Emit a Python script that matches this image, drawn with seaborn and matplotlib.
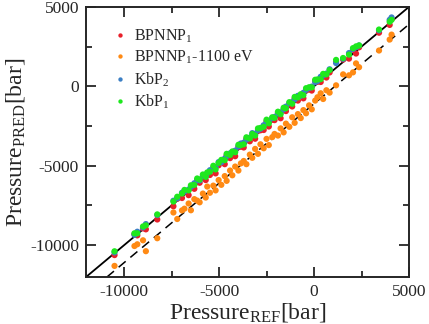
import numpy as np
import pandas as pd
import matplotlib
matplotlib.use("Agg")
import matplotlib.pyplot as plt
import seaborn as sns
from matplotlib.ticker import MultipleLocator

# ==============================
# Data
# ==============================

p_ref = [-10500, -9450, -9300, -9000, -8850, -8250,
         -7400, -7200, -6950, -6820, -6600, -6480, -6300, -6150, -6020, -5850, -5700, -5620,
         -5480, -5300, -5180, -5020, -4880, -4700, -4600, -4420, -4300, -4150,
         -3980, -3850, -3700, -3560, -3380, -3250, -3100, -2950, -2820, -2650,
         -2500, -2380, -2200, -2080, -1900, -1760, -1600, -1480, -1300, -1150,
         -1020, -850, -700, -560, -420, -260, -120, 60, 180, 350,
         480, 650, 820, 1160, 1530, 1840, 2050, 2210, 2370, 3420,
         3980, 4080]

bpnnp1 = [-10620, -9300, -9380, -8940, -9000, -8380,
          -7550, -7080, -7030, -6620, -6850, -6380, -6450, -5900, -6070, -5700, -5900, -5540,
          -5580, -5100, -5480, -4970, -4730, -4900, -4350, -4520, -4220, -4400,
          -3830, -3800, -3850, -3310, -3460, -3150, -3300, -2800, -2770, -2750,
          -2200, -2530, -2100, -2130, -1700, -2010, -1480, -1560, -1120, -1270,
          -770, -900, -600, -760, -270, -200, -270, 340, 280, 270,
          680, 550, 870, 1560, 1680, 1740, 2300, 2060, 2450, 3370,
          3860, 4230]

bpnnp1_1100 = [-11300, -10050, -9940, -9690, -10375, -9560,
               -7940, -8350, -7810, -7700, -7375, -7800, -7100, -7190, -7300, -6750, -7000, -6310,
               -6700, -6250, -6550, -5900, -6200, -5650, -5950, -5300, -5600, -5050,
               -5300, -4850, -4700, -4900, -4300, -4500, -3940, -4250, -3650, -3900,
               -3310, -3700, -3200, -3000, -3100, -2650, -2900, -2350, -2550, -1950,
               -2300, -1750, -2000, -1500, -1700, -1200, -1450, -900, -690, -440,
               -800, -250, -400, 60, 750, 690, 875, 1440, 1200, 2250,
               2940, 3250]

kbp2 = [-10450, -9350, -9150, -8880, -8670, -8100,
        -7200, -7050, -6700, -6620, -6500, -6330, -6100, -5900, -5920, -5650, -5650, -5470,
        -5280, -5150, -5080, -4770, -4780, -4550, -4400, -4220, -4150, -4050,
        -3780, -3600, -3550, -3360, -3230, -2950, -3000, -2750, -2670, -2450,
        -2250, -2230, -2000, -1930, -1700, -1660, -1450, -1280, -1050, -1000,
        -820, -600, -600, -410, -220, -110, -20, 260, 330, 600,
        680, 800, 1070, 1460, 1730, 2090, 2350, 2460, 2570, 3520,
        4180, 4330]

kbp1 = [-10380, -9250, -9250, -8820, -8750, -8060,
        -7250, -6950, -6750, -6520, -6550, -6230, -6200, -5800, -5870, -5550, -5700, -5420,
        -5380, -5000, -5230, -4820, -4630, -4650, -4250, -4320, -4100, -4150,
        -3680, -3700, -3650, -3210, -3280, -3000, -3100, -2650, -2620, -2550,
        -2100, -2330, -1950, -1980, -1600, -1760, -1350, -1380, -1000, -1100,
        -670, -700, -500, -560, -120, -60, -70, 410, 430, 450,
        780, 750, 1020, 1660, 1780, 1990, 2400, 2510, 2570, 3570,
        4060, 4180]

labels = ["BPNNP$_1$", "BPNNP$_1$-1100 eV", "KbP$_2$", "KbP$_1$"]
colors = ["#e8202a", "#ff8a14", "#3b7fc4", "#1ee81e"]
shift = -1100  # offset of the dashed line

frames = []
for lab, vals in zip(labels, [bpnnp1, bpnnp1_1100, kbp2, kbp1]):
    frames.append(pd.DataFrame({"ref": p_ref, "pred": vals, "model": lab}))
df = pd.concat(frames, ignore_index=True)

# ==============================
# Plot
# ==============================

sns.set_style("ticks")
plt.rcParams["font.family"] = ["Liberation Serif", "DejaVu Serif"]
plt.rcParams["mathtext.fontset"] = "custom"
plt.rcParams["mathtext.rm"] = "Liberation Serif"
plt.rcParams["mathtext.it"] = "Liberation Serif:italic"
plt.rcParams["axes.unicode_minus"] = False

fig = plt.figure(figsize=(4.29, 3.24), dpi=100)
ax = fig.add_axes([0.2005, 0.145, 0.753, 0.834])

ax.axline((0, 0), slope=1, color="black", lw=1.3, zorder=1)
ax.axline((0, shift), slope=1, color="black", lw=1.1, ls=(0, (6, 4)), zorder=1)

sns.scatterplot(data=df, x="ref", y="pred", hue="model", hue_order=labels,
                palette=colors, s=20, linewidth=0, ax=ax, zorder=3)

ax.set_xlim(-12000, 5000)
ax.set_ylim(-12000, 5000)
ax.xaxis.set_major_locator(MultipleLocator(5000))
ax.yaxis.set_major_locator(MultipleLocator(5000))
ax.xaxis.set_minor_locator(MultipleLocator(2500))
ax.yaxis.set_minor_locator(MultipleLocator(2500))
ax.tick_params(which="both", direction="in", top=True, right=True, labelsize=12.5, width=1.3)
ax.tick_params(which="major", length=7, pad=5)
ax.tick_params(which="minor", length=4)
for sp in ax.spines.values():
    sp.set_linewidth(1.4)

ax.set_xlabel("Pressure$_{\\mathrm{REF}}$[bar]", fontsize=17, labelpad=1)
ax.set_ylabel("Pressure$_{\\mathrm{PRED}}$[bar]", fontsize=17, labelpad=2)

leg = ax.legend(loc="upper left", frameon=False, fontsize=11.5, handletextpad=0.4,
                handlelength=1.0, markerscale=0.7, labelspacing=0.25, borderaxespad=0.4,
                bbox_to_anchor=(0.04, 0.97))

plt.savefig("out.png", dpi=100)
